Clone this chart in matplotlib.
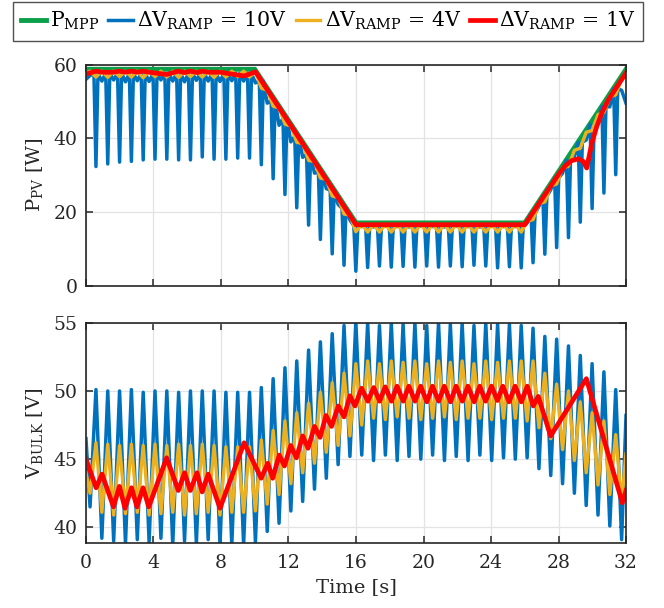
import numpy as np
import matplotlib
matplotlib.use('Agg')
import matplotlib.pyplot as plt

plt.rcParams['font.family'] = ['DejaVu Serif']
plt.rcParams['mathtext.fontset'] = 'dejavuserif'

# ---- data (times in s) ----
# MPP power
mpp_t = [0, 10, 16, 26, 32]
mpp_p = [58.7, 58.7, 17.0, 17.0, 58.7]

# vertex times of the fast oscillation (dV_RAMP = 10V and 4V)
trough_t = [0.24, 0.94, 1.64, 2.34, 3.04, 3.74, 4.44, 5.14, 5.84, 6.54, 7.24, 7.94,
            8.64, 9.34, 10.04, 10.74, 11.44, 12.14, 12.84, 13.54, 14.24, 14.94, 15.64,
            16.34, 17.04, 17.74, 18.44, 19.14, 19.84, 20.54, 21.24, 21.94, 22.64, 23.34,
            24.04, 24.74, 25.44, 26.14, 26.84, 27.54, 28.24, 28.94, 29.64, 30.34, 31.04, 31.74]
peak_t = [0.59, 1.29, 1.99, 2.69, 3.39, 4.09, 4.79, 5.49, 6.19, 6.89, 7.59, 8.29,
          8.99, 9.69, 10.39, 11.09, 11.79, 12.49, 13.19, 13.89, 14.59, 15.29, 15.99,
          16.69, 17.39, 18.09, 18.79, 19.49, 20.19, 20.89, 21.59, 22.29, 22.99, 23.69,
          24.39, 25.09, 25.79, 26.49, 27.19, 27.89, 28.59, 29.29, 29.99, 30.69, 31.39]

# dV_RAMP = 10V : bulk voltage
v10_start, v10_end = 46.5, 48.2
v10_trough = [41.5, 39.2, 39.0, 38.8, 39.1, 38.9, 39.2, 38.7, 39.0, 38.8, 39.1, 38.7,
              38.7, 38.7, 38.9, 39.7, 40.3, 41.2, 41.9, 42.8, 43.6, 44.6, 45.2,
              45.3, 44.9, 45.3, 44.9, 45.2, 45.0, 45.3, 44.9, 45.2, 44.9, 45.3, 44.9,
              45.1, 45.0, 45.1, 44.3, 43.8, 43.2, 42.5, 41.6, 40.9, 40.1, 39.1]
v10_peak = [50.1, 50.0, 50.0, 50.1, 49.9, 50.0, 50.0, 49.9, 50.0, 50.0, 50.0, 49.9,
            49.9, 49.9, 50.25, 50.9, 51.7, 52.2, 53.0, 53.6, 54.2, 54.8, 55.1,
            55.0, 54.8, 55.0, 54.9, 55.0, 54.8, 55.0, 54.9, 55.0, 54.8, 55.0, 54.9,
            54.9, 54.8, 54.6, 54.0, 53.8, 53.3, 52.6, 52.0, 51.4, 50.1]
# dV_RAMP = 10V : PV power (dips at voltage peaks, shoulders, small dips at troughs)
p10_start, p10_end = 56.0, 49.5
p10_dip = [32.3, 33.0, 33.5, 33.7, 34.1, 34.3, 34.3, 34.1, 34.1, 34.9, 34.3, 34.3,
           34.6, 34.6, 32.8, 29.0, 24.7, 21.1, 16.4, 12.5, 8.6, 5.5, 3.9,
           4.9, 5.3, 5.0, 5.2, 5.0, 5.3, 5.0, 5.3, 5.1, 5.5, 5.3, 4.8,
           5.1, 4.8, 6.2, 8.5, 10.3, 13.0, 17.2, 20.9, 25.1, 30.1]
p10_top = [57.6] * 14 + [55.5, 50.2, 45.4, 40.5, 35.6, 30.8, 25.9, 21.0, 16.2] + \
          [16.2] * 14 + [19.5, 24.3, 29.2, 34.0, 38.9, 43.7, 48.6, 53.4]
p10_trough = [57.0, 55.5, 55.8, 55.3, 55.6, 55.4, 55.8, 55.5, 55.3, 55.7, 55.5, 55.4,
              55.6, 55.5, 55.0, 49.5, 43.5, 39.0, 34.8, 30.5, 26.3, 22.0, 17.8,
              16.0, 15.9, 16.1, 16.0, 15.9, 16.1, 16.0, 15.9, 16.1, 16.0, 15.9, 16.1,
              16.0, 16.0, 17.0, 21.5, 26.0, 30.5, 35.0, 39.5, 44.0, 48.5, 53.0]

# dV_RAMP = 4V : bulk voltage
v4_start, v4_end = 44.0, 45.4
v4_trough = [42.5, 41.1, 40.9, 41.0, 41.1, 40.9, 41.0, 41.1, 40.9, 41.0, 41.1, 40.9,
             41.1, 41.1, 41.2, 41.7, 42.4, 43.2, 44.0, 44.7, 45.5, 46.0, 46.7,
             47.5, 48.0, 47.9, 48.1, 48.0, 47.9, 48.0, 48.1, 47.9, 48.0, 48.0, 47.9,
             48.0, 48.0, 47.8, 47.3, 46.5, 45.7, 44.9, 44.0, 43.1, 42.4, 41.8]
v4_peak = [46.2, 46.1, 46.0, 46.1, 46.0, 46.1, 46.0, 46.1, 46.0, 46.1, 46.0, 45.9,
           45.9, 45.9, 46.4, 47.1, 47.8, 48.4, 49.1, 49.9, 50.6, 51.3, 52.0,
           52.2, 52.0, 52.2, 52.1, 52.2, 52.0, 52.2, 52.1, 52.2, 52.0, 52.2, 52.1,
           52.2, 52.2, 52.2, 51.3, 50.5, 50.0, 49.2, 48.4, 47.8, 46.8]
# dV_RAMP = 4V : PV power
p4_start, p4_end = 57.6, 57.0
p4_trough = [58.2] * 14 + [58.0, 53.0, 48.2, 43.3, 38.5, 33.6, 28.8, 23.9, 19.1] + \
            [16.6] * 14 + [17.4, 22.2, 27.0, 31.9, 36.7, 41.6, 46.4, 51.2, 56.0]
p4_peak = [56.6, 56.5, 56.7, 56.6, 56.4, 56.7, 56.6, 56.5, 56.7, 56.6, 56.5, 56.6,
           56.7, 56.6, 53.6, 48.7, 43.8, 38.9, 34.0, 29.2, 24.3, 19.4, 14.6] + \
          [14.5] * 14 + [17.9, 22.7, 27.6, 32.4, 37.3, 42.1, 47.0, 51.8]

# dV_RAMP = 1V : bulk voltage
v1_t = [0.00, 0.60, 0.95, 1.63, 1.98, 2.31, 2.70, 3.02, 3.38, 3.72, 4.78, 5.47, 5.84,
        6.18, 6.58, 6.88, 7.24, 7.94, 9.37, 10.38, 10.77, 11.06, 11.45, 11.76, 12.13,
        12.47, 12.84, 13.16, 13.54, 13.87, 14.22, 14.55, 14.95, 15.29, 15.64, 15.94,
        16.33, 16.70, 17.05, 17.40, 17.73, 18.10, 18.43, 18.80, 19.13, 19.50, 19.83,
        20.20, 20.53, 20.90, 21.23, 21.60, 21.93, 22.30, 22.63, 23.00, 23.33, 23.68,
        24.03, 24.38, 24.70, 25.07, 25.43, 25.80, 26.15, 26.50, 26.80, 27.53, 29.65,
        31.78, 32.00]
v1 = [45.0, 42.9, 43.9, 41.5, 43.0, 41.4, 42.9, 41.5, 42.9, 41.5, 45.1, 42.7, 44.0,
      42.7, 44.0, 42.6, 43.9, 41.4, 46.2, 43.6, 44.7, 43.6, 45.3, 44.5, 46.0,
      45.1, 46.7, 45.8, 47.4, 46.6, 48.2, 47.4, 48.9, 48.1, 49.65, 48.9,
      50.2, 49.25, 50.25, 49.25, 50.3, 49.25, 50.35, 49.25, 50.35, 49.25, 50.35,
      49.2, 50.35, 49.25, 50.35, 49.2, 50.35, 49.25, 50.35, 49.2, 50.35, 49.25,
      50.35, 49.3, 50.35, 49.2, 50.35, 49.2, 50.35, 48.9, 49.6, 46.7, 50.9,
      41.8, 42.7]
# dV_RAMP = 1V : PV power
p1_t = [0.00, 0.60, 0.95, 1.63, 1.98, 2.31, 2.70, 3.02, 3.38, 3.72, 4.78, 5.47, 5.84,
        6.18, 6.58, 6.88, 7.24, 7.94, 9.37, 10.05, 16.0, 26.0, 27.99, 28.39, 28.78,
        29.18, 29.47, 29.67, 29.97, 30.26, 30.56, 30.95, 31.45, 32.0]
p1 = [57.4, 58.2, 57.9, 57.9, 58.2, 57.9, 58.2, 57.9, 58.2, 57.9, 57.3, 58.2, 57.8,
      58.2, 57.8, 58.2, 57.9, 57.9, 56.9, 58.0, 16.5, 16.5, 30.1, 32.5, 33.9,
      34.4, 33.7, 31.9, 38.6, 43.1, 46.8, 50.4, 53.9, 57.7]

labels = ['P$_{\\mathregular{MPP}}$', '\u0394V$_{\\mathregular{RAMP}}$ = 10V',
          '\u0394V$_{\\mathregular{RAMP}}$ = 4V', '\u0394V$_{\\mathregular{RAMP}}$ = 1V']
colors = ['#0aa04a', '#0072BD', '#EDB120', '#FF0000']


def interleave(start, troughs, peaks, end):
    vals = [start]
    for k in range(len(peaks)):
        vals += [troughs[k], peaks[k]]
    vals += [troughs[-1], end]
    return vals


t_osc = interleave(0.0, trough_t, peak_t, 32.0)
v10_all = interleave(v10_start, v10_trough, v10_peak, v10_end)
v4_all = interleave(v4_start, v4_trough, v4_peak, v4_end)
p4_all = interleave(p4_start, p4_trough, p4_peak, p4_end)

# power of the 10V case: narrow spikes at the voltage peaks
p10_t, p10 = [0.0], [p10_start]
for k in range(len(peak_t)):
    p10_t += [trough_t[k], peak_t[k] - 0.12, peak_t[k], peak_t[k] + 0.12]
    p10 += [p10_trough[k], p10_top[k], p10_dip[k], p10_top[k]]
p10_t += [trough_t[-1], 32.0]
p10 += [p10_trough[-1], p10_end]

fig = plt.figure(figsize=(6.64, 6.08), dpi=100)
ax1 = fig.add_axes([0.1295, 0.5304, 0.8133, 0.3635])
ax2 = fig.add_axes([0.1295, 0.1069, 0.8133, 0.3622])

h_mpp, = ax1.plot(mpp_t, mpp_p, color=colors[0], lw=3.5, solid_joinstyle='miter')
h10, = ax1.plot(p10_t, p10, color=colors[1], lw=2.5)
h4, = ax1.plot(t_osc, p4_all, color=colors[2], lw=2.4)
h1, = ax1.plot(p1_t, p1, color=colors[3], lw=3.4)

ax2.plot(t_osc, v10_all, color=colors[1], lw=2.5)
ax2.plot(t_osc, v4_all, color=colors[2], lw=2.4)
ax2.plot(v1_t, v1, color=colors[3], lw=3.4)

ax1.set_ylim(0, 60)
ax1.set_yticks([0, 20, 40, 60])
ax1.set_xticklabels([])
ax2.set_ylim(38.85, 55)
ax2.set_yticks([40, 45, 50, 55])

for ax in (ax1, ax2):
    ax.set_xlim(0, 32)
    ax.set_xticks(np.arange(0, 33, 4))
    ax.grid(True, color='#e3e3e3', lw=0.9)
    ax.set_axisbelow(True)
    ax.tick_params(direction='in', top=True, right=True, length=5, width=1.1,
                   colors='#262626', labelsize=13.5, pad=6)
    for s in ax.spines.values():
        s.set_linewidth(1.2)
        s.set_color('#262626')

ax2.tick_params(axis='x', pad=8)
ax2.set_xticklabels([str(v) for v in range(0, 33, 4)])
ax1.set_ylabel('P$_{\\mathregular{PV}}$ [W]', fontsize=14, color='#262626', labelpad=6)
ax2.set_ylabel('V$_{\\mathregular{BULK}}$ [V]', fontsize=14, color='#262626', labelpad=6)
ax2.set_xlabel('Time [s]', fontsize=14, color='#262626', labelpad=4)

leg = fig.legend([h_mpp, h10, h4, h1], labels, loc='upper center',
                 bbox_to_anchor=(0.494, 0.997), ncol=4, fontsize=14.8,
                 frameon=True, fancybox=False, handlelength=1.2,
                 handletextpad=0.2, columnspacing=0.45, borderpad=0.4,
                 borderaxespad=0.0)
leg.get_frame().set_edgecolor('#262626')
leg.get_frame().set_linewidth(1.0)

fig.savefig('out.png', dpi=100)
